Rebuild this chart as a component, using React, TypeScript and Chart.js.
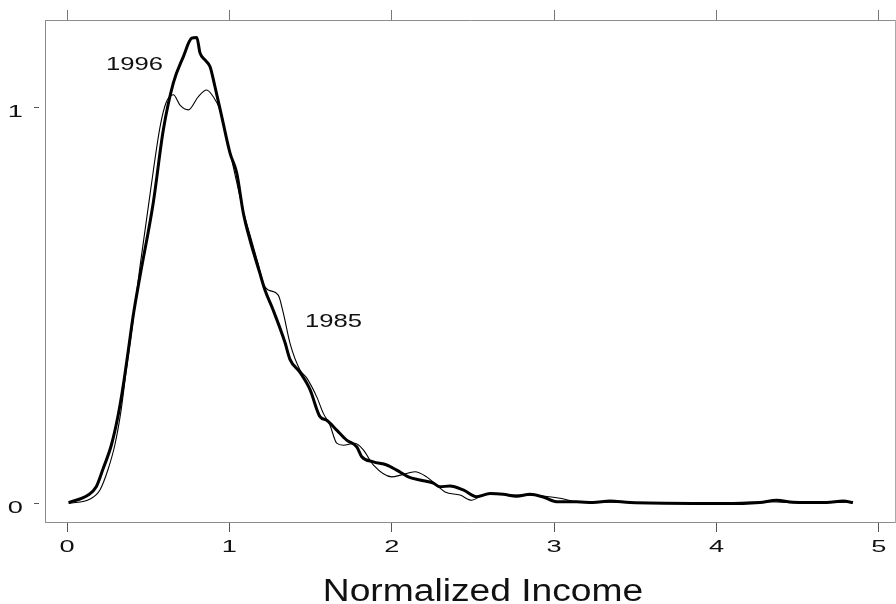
import { useEffect, useRef } from 'react';
import { Chart, registerables } from 'chart.js';

Chart.register(...registerables);

// ---- Data ----
const income1996 = [0.01, 0.13, 0.18, 0.22, 0.275, 0.316, 0.347, 0.377, 0.408, 0.45, 0.531, 0.593, 0.655, 0.716, 0.768, 0.799, 0.819, 0.85, 0.881, 0.911, 0.953, 1.004, 1.045, 1.086, 1.127, 1.188, 1.219, 1.27, 1.342, 1.373, 1.435, 1.496, 1.558, 1.599, 1.661, 1.722, 1.784, 1.815, 1.886, 1.969, 2.03, 2.102, 2.174, 2.256, 2.297, 2.358, 2.44, 2.523, 2.605, 2.687, 2.769, 2.851, 2.933, 3.015, 3.139, 3.239, 3.344, 3.467, 3.855, 4.163, 4.267, 4.37, 4.47, 4.678, 4.78, 4.84];
const density1996 = [0.002, 0.021, 0.042, 0.085, 0.15, 0.225, 0.3, 0.385, 0.475, 0.575, 0.759, 0.943, 1.062, 1.128, 1.175, 1.177, 1.138, 1.12, 1.103, 1.053, 0.977, 0.885, 0.835, 0.733, 0.665, 0.581, 0.539, 0.488, 0.407, 0.364, 0.331, 0.288, 0.219, 0.21, 0.185, 0.16, 0.143, 0.118, 0.105, 0.097, 0.084, 0.067, 0.059, 0.051, 0.042, 0.044, 0.034, 0.017, 0.025, 0.023, 0.018, 0.023, 0.016, 0.004, 0.004, 0.002, 0.006, 0.002, 0.0, 0.0, 0.002, 0.008, 0.003, 0.002, 0.006, 0.002];

const income1985 = [0.01, 0.142, 0.203, 0.252, 0.296, 0.333, 0.363, 0.4, 0.45, 0.511, 0.573, 0.61, 0.655, 0.696, 0.747, 0.808, 0.86, 0.901, 0.942, 0.979, 1.022, 1.084, 1.127, 1.176, 1.213, 1.24, 1.301, 1.332, 1.373, 1.435, 1.476, 1.538, 1.578, 1.619, 1.661, 1.701, 1.773, 1.825, 1.886, 1.999, 2.061, 2.143, 2.215, 2.276, 2.328, 2.42, 2.492, 2.563, 2.666, 2.759, 2.851, 2.943, 3.036, 3.139, 3.3, 3.6, 4.0, 4.3, 4.5, 4.84];
const density1985 = [0.0, 0.011, 0.034, 0.085, 0.15, 0.235, 0.33, 0.44, 0.6, 0.78, 0.951, 1.012, 1.032, 1.006, 0.994, 1.027, 1.044, 1.027, 0.994, 0.93, 0.854, 0.741, 0.678, 0.607, 0.551, 0.539, 0.526, 0.481, 0.405, 0.337, 0.317, 0.269, 0.228, 0.198, 0.152, 0.147, 0.152, 0.135, 0.097, 0.067, 0.072, 0.08, 0.067, 0.046, 0.029, 0.021, 0.008, 0.021, 0.023, 0.021, 0.021, 0.018, 0.013, 0.004, 0.003, 0.002, 0.001, 0.004, 0.002, 0.003];

const xTickValues = [0, 1, 2, 3, 4, 5];
const yTickValues = [0, 1];
const seriesNames = ['1996', '1985'];
// label anchor positions in data units (left, baseline)
const labelX = [0.24, 1.466];
const labelY = [1.095, 0.445];
const axisTitle = 'Normalized Income';

const X_MIN = -0.1355;
const X_MAX = 5.099;
const Y_MIN = -0.047;
const Y_MAX = 1.221;

const FONT = '"Liberation Sans", Arial, Helvetica, sans-serif';

const textPlugin = {
  id: 'textPlugin',
  afterDraw(chart: any) {
    const { ctx, chartArea, scales } = chart;
    const xs = scales.x;
    const ys = scales.y;
    ctx.save();
    ctx.fillStyle = '#111';
    ctx.textBaseline = 'alphabetic';

    // x tick labels
    ctx.font = `17px ${FONT}`;
    ctx.textAlign = 'center';
    xTickValues.forEach((v) => {
      const px = xs.getPixelForValue(v);
      ctx.save();
      ctx.translate(px, chartArea.bottom + 30);
      ctx.scale(1.6, 1);
      ctx.fillText(String(v), 0, 0);
      ctx.restore();
    });

    // y tick labels
    ctx.textAlign = 'right';
    yTickValues.forEach((v) => {
      const py = ys.getPixelForValue(v);
      ctx.save();
      ctx.translate(chartArea.left - 22, py + 10);
      ctx.scale(1.6, 1);
      ctx.fillText(String(v), 0, 0);
      ctx.restore();
    });

    // series labels
    ctx.font = `19px ${FONT}`;
    ctx.textAlign = 'left';
    seriesNames.forEach((name, i) => {
      ctx.save();
      ctx.translate(xs.getPixelForValue(labelX[i]), ys.getPixelForValue(labelY[i]));
      ctx.scale(1.35, 1);
      ctx.fillText(name, 0, 0);
      ctx.restore();
    });

    // axis title
    ctx.font = `31px ${FONT}`;
    ctx.textAlign = 'center';
    ctx.save();
    ctx.translate((chartArea.left + chartArea.right) / 2 + 13, chartArea.bottom + 79);
    ctx.scale(1.2, 1);
    ctx.fillText(axisTitle, 0, 0);
    ctx.restore();

    ctx.restore();
  },
};

export default function App() {
  const canvasRef = useRef<HTMLCanvasElement | null>(null);

  useEffect(() => {
    if (!canvasRef.current) return;
    const setX = (s: any) => {
      s.ticks = xTickValues.map((v) => ({ value: v }));
    };
    const setY = (s: any) => {
      s.ticks = yTickValues.map((v) => ({ value: v }));
    };
    const chart = new Chart(canvasRef.current, {
      type: 'scatter',
      data: {
        datasets: [
          {
            label: seriesNames[0],
            data: income1996.map((x, i) => ({ x, y: density1996[i] })),
            showLine: true,
            borderColor: '#000',
            borderWidth: 3,
            pointRadius: 0,
            cubicInterpolationMode: 'monotone',
            xAxisID: 'x',
            yAxisID: 'y',
          },
          {
            label: seriesNames[1],
            data: income1985.map((x, i) => ({ x, y: density1985[i] })),
            showLine: true,
            borderColor: '#000',
            borderWidth: 1.1,
            pointRadius: 0,
            cubicInterpolationMode: 'monotone',
            xAxisID: 'x',
            yAxisID: 'y',
          },
        ],
      },
      options: {
        animation: false,
        responsive: false,
        devicePixelRatio: 1,
        layout: { padding: 0 },
        plugins: {
          legend: { display: false },
          tooltip: { enabled: false },
        },
        scales: {
          x: {
            type: 'linear',
            position: 'bottom',
            min: X_MIN,
            max: X_MAX,
            afterBuildTicks: setX,
            ticks: { display: false },
            grid: { drawOnChartArea: false, drawTicks: true, tickLength: 10, color: '#555', lineWidth: 1 },
            border: { display: true, color: '#8c8c8c', width: 1 },
            afterFit: (s: any) => {
              s.height = 82;
            },
          },
          x2: {
            type: 'linear',
            position: 'top',
            min: X_MIN,
            max: X_MAX,
            afterBuildTicks: setX,
            ticks: { display: false },
            grid: { drawOnChartArea: false, drawTicks: true, tickLength: 10, color: '#777', lineWidth: 1 },
            border: { display: true, color: '#8c8c8c', width: 1 },
            afterFit: (s: any) => {
              s.height = 20;
            },
          },
          y: {
            type: 'linear',
            position: 'left',
            min: Y_MIN,
            max: Y_MAX,
            afterBuildTicks: setY,
            ticks: { display: false },
            grid: {
              drawOnChartArea: false,
              drawTicks: true,
              tickLength: 11,
              color: '#555',
              tickBorderDash: [5, 6],
              tickBorderDashOffset: 0,
            },
            border: { display: true, color: '#8c8c8c', width: 1 },
            afterFit: (s: any) => {
              s.width = 45;
            },
          },
          y2: {
            type: 'linear',
            position: 'right',
            min: Y_MIN,
            max: Y_MAX,
            afterBuildTicks: setY,
            ticks: { display: false },
            grid: { drawOnChartArea: false, drawTicks: false },
            border: { display: true, color: '#aaa', width: 1 },
            afterFit: (s: any) => {
              s.width = 1;
            },
          },
        },
      },
      plugins: [textPlugin],
    } as any);
    return () => chart.destroy();
  }, []);

  return (
    <div style={{ position: 'absolute', left: 0, top: 0, width: 896, height: 604, background: '#fff' }}>
      <canvas ref={canvasRef} width={896} height={604} style={{ display: 'block', width: 896, height: 604 }} />
    </div>
  );
}
